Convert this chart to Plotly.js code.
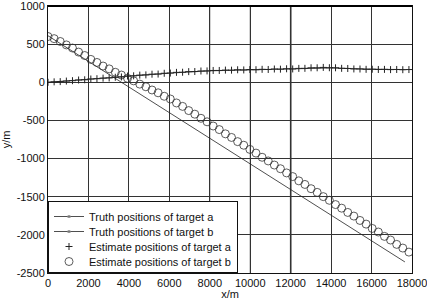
<!DOCTYPE html>
<html>
<head>
<meta charset="utf-8">
<script src="https://cdn.plot.ly/plotly-3.0.1.min.js"></script>
<style>html,body{margin:0;padding:0;background:#fff;}#chart{width:427px;height:300px;}</style>
</head>
<body>
<div id="chart"></div>
<script>
// Truth trajectories (sparse points along the straight tracks)
var truthAX = [0, 2000, 4000, 6000, 8000, 10000, 12000, 14000, 16000, 17650];
var truthAY = [0, 40, 78, 120, 150, 163, 176, 188, 172, 166];
var truthBX = [0, 4000, 8000, 12000, 16000, 17650];
var truthBY = [610, -62, -734, -1406, -2078, -2355];

// Estimate sample positions (x) shared by both estimated tracks
var estX = [0, 303, 605, 908, 1210, 1513, 1815, 2118, 2420, 2723, 3025, 3328, 3630, 3933, 4235,
  4538, 4840, 5143, 5445, 5748, 6050, 6353, 6655, 6958, 7260, 7563, 7865, 8168, 8470, 8773,
  9075, 9378, 9680, 9983, 10285, 10588, 10890, 11193, 11495, 11798, 12100, 12403, 12705, 13008, 13310,
  13613, 13915, 14218, 14520, 14823, 15125, 15428, 15730, 16033, 16335, 16638, 16940, 17243, 17545, 17848];
var estAY = [0, 6, 9, 16, 21, 30, 33, 43, 47, 54, 57, 66, 70, 82, 85,
  94, 97, 106, 108, 118, 121, 130, 132, 140, 141, 148, 149, 155, 155, 160,
  159, 164, 162, 167, 165, 170, 168, 174, 172, 177, 175, 182, 183, 190, 190,
  195, 191, 190, 183, 181, 175, 174, 170, 171, 168, 169, 166, 168, 165, 167];
var estBY = [600, 572, 535, 490, 449, 396, 351, 300, 260, 213, 176, 131, 95, 52, 19,
  -24, -59, -101, -138, -183, -219, -271, -316, -371, -418, -472, -518, -573, -620, -676,
  -723, -778, -825, -880, -928, -983, -1031, -1085, -1133, -1188, -1236, -1292, -1339, -1395, -1443,
  -1499, -1547, -1603, -1650, -1706, -1754, -1811, -1859, -1916, -1963, -2020, -2068, -2125, -2173, -2226];

var legendNames = ['Truth positions of target a', 'Truth positions of target b',
  'Estimate positions of target a', 'Estimate positions of target b'];

var xTicks = [0, 2000, 4000, 6000, 8000, 10000, 12000, 14000, 16000, 18000];
var xTickText = ['0', '2000', '4000', '6000', '8000', '10000', '12000', '14000', '16000', '18000'];
var yTicks = [-2500, -2000, -1500, -1000, -500, 0, 500, 1000];
var yTickText = ['-2500', '-2000', '-1500', '-1000', '-500', '0', '500', '1000'];

// truth markers are not visible along the tracks, only in the legend key
function hiddenSizes(arr) { return arr.map(function () { return 0; }); }

var traces = [
  {x: truthAX, y: truthAY, name: legendNames[0], mode: 'lines+markers', type: 'scatter',
   line: {color: '#222', width: 0.8}, marker: {color: '#222', size: hiddenSizes(truthAX)}},
  {x: truthBX, y: truthBY, name: legendNames[1], mode: 'lines+markers', type: 'scatter',
   line: {color: '#222', width: 0.8}, marker: {color: '#222', size: hiddenSizes(truthBX)}},
  {x: estX, y: estAY, name: legendNames[2], mode: 'markers', type: 'scatter',
   marker: {symbol: 'cross-thin-open', size: 5, color: '#222', line: {color: '#222', width: 1}}},
  {x: estX, y: estBY, name: legendNames[3], mode: 'markers', type: 'scatter',
   marker: {symbol: 'circle-open', size: 8, color: '#333', line: {color: '#333', width: 0.8}}}
];

var fontFam = '"Liberation Sans", Arial, sans-serif';
var layout = {
  width: 427, height: 300,
  margin: {l: 48, r: 15, t: 6, b: 27},
  paper_bgcolor: '#fff', plot_bgcolor: '#fff',
  font: {family: fontFam, size: 11, color: '#111'},
  showlegend: true,
  legend: {x: 0, y: 0, xanchor: 'left', yanchor: 'bottom', bgcolor: '#fff',
    bordercolor: '#111', borderwidth: 1, font: {family: fontFam, size: 11, color: '#111'},
    tracegroupgap: 0, itemwidth: 30},
  xaxis: {range: [0, 18000], tickvals: xTicks, ticktext: xTickText,
    showgrid: true, gridcolor: '#333', gridwidth: 1, zeroline: false,
    showline: true, mirror: true, linecolor: '#111', linewidth: 1, ticks: '',
    ticklabeloverflow: 'allow',
    tickfont: {size: 11, color: '#111'},
    title: {text: 'x/m', font: {size: 11, color: '#111'}, standoff: 1}},
  yaxis: {range: [-2500, 1000], tickvals: yTicks, ticktext: yTickText,
    showgrid: true, gridcolor: '#333', gridwidth: 1, zeroline: false,
    showline: true, mirror: true, linecolor: '#111', linewidth: 1, ticks: '',
    ticklabeloverflow: 'allow',
    tickfont: {size: 11, color: '#111'},
    title: {text: 'y/m', font: {size: 11, color: '#111'}, standoff: 4}},
  shapes: [
    {type: 'line', xref: 'x', yref: 'paper', x0: 8000, x1: 8000, y0: 0, y1: 1, layer: 'below', line: {color: '#aaa', width: 1.5}},
    {type: 'line', xref: 'x', yref: 'paper', x0: 10000, x1: 10000, y0: 0, y1: 1, layer: 'below', line: {color: '#aaa', width: 1.5}},
    {type: 'line', xref: 'x', yref: 'paper', x0: 12000, x1: 12000, y0: 0, y1: 1, layer: 'below', line: {color: '#000', width: 1.5}},
    {type: 'line', xref: 'paper', yref: 'paper', x0: 0, x1: 1, y0: 1, y1: 1, layer: 'above', line: {color: '#000', width: 2}}
  ]
};

function parseTranslate(t) {
  var m = /translate\(\s*([-\d.e]+)[ ,]+([-\d.e]+)\s*\)/.exec(t || '');
  return m ? [parseFloat(m[1]), parseFloat(m[2])] : [0, 0];
}

Plotly.newPlot('chart', traces, layout, {displayModeBar: false, staticPlot: true}).then(function (gd) {
  var leg = gd.querySelector('g.legend');
  if (!leg) return;
  var items = leg.querySelectorAll('g.traces');
  if (items.length < 2) return;

  // small dot in the key of the two truth entries
  var SVGNS = 'http://www.w3.org/2000/svg';
  for (var k = 0; k < 2 && k < items.length; k++) {
    var lineEl = items[k].querySelector('path.js-line');
    var host = lineEl ? lineEl.parentNode : items[k];
    var dot = document.createElementNS(SVGNS, 'path');
    dot.setAttribute('d', 'M1.6,0A1.6,1.6 0 1,1 0,-1.6A1.6,1.6 0 0,1 1.6,0Z');
    dot.setAttribute('transform', 'translate(20,0)');
    dot.setAttribute('style', 'fill:#222;stroke:none;');
    host.appendChild(dot);
  }

  // tighten legend row spacing to match the compact legend of the reference
  var rowH = 15;
  var first = parseTranslate(items[0].getAttribute('transform'));
  var origStep = parseTranslate(items[1].getAttribute('transform'))[1] - first[1];
  for (var i = 0; i < items.length; i++) {
    var p = parseTranslate(items[i].getAttribute('transform'));
    items[i].setAttribute('transform', 'translate(' + p[0] + ',' + (first[1] + i * rowH) + ')');
  }
  var shrink = (origStep - rowH) * items.length;
  var bg = leg.querySelector('rect.bg');
  if (bg) {
    var h = parseFloat(bg.getAttribute('height'));
    bg.setAttribute('height', h - shrink);
  }
  var lp = parseTranslate(leg.getAttribute('transform'));
  leg.setAttribute('transform', 'translate(' + lp[0] + ',' + (lp[1] + shrink) + ')');
});
</script>
</body>
</html>
